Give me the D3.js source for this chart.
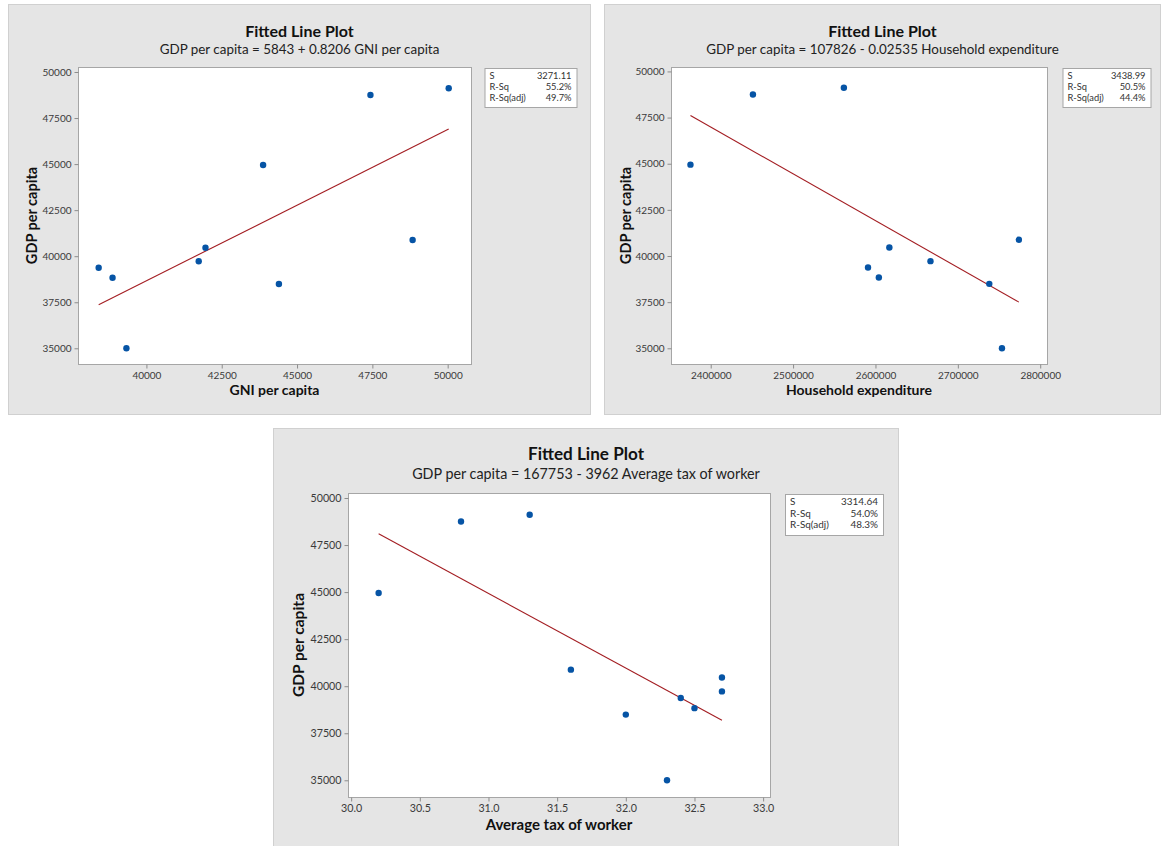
<!DOCTYPE html>
<html>
<head>
<meta charset="utf-8">
<script src="https://cdn.jsdelivr.net/npm/d3@7"></script>
<style>
  html, body { margin: 0; padding: 0; background: #ffffff; }
  svg { display: block; font-family: "Lato", "Noto Sans", sans-serif; }
</style>
</head>
<body>
<svg id="chart" width="1161" height="846"></svg>
<script>
// ---- data ----
const gdpPerCapita = [39376, 38833, 35000, 39723, 40461, 44951, 38491, 48751, 40880, 49114];
const gniPerCapita = [38415, 38876, 39336, 41736, 41961, 43873, 44398, 47436, 48836, 50034];
const householdExpenditure = [2590980, 2604120, 2753570, 2666820, 2616870, 2375420, 2738200, 2451260, 2774080, 2561670];
const averageTax = [32.4, 32.5, 32.3, 32.7, 32.7, 30.2, 32.0, 30.8, 31.6, 31.3];

const gdpTicks = [35000, 37500, 40000, 42500, 45000, 47500, 50000];
const gniTicks = [40000, 42500, 45000, 47500, 50000];
const heTicks = [2400000, 2500000, 2600000, 2700000, 2800000];
const taxTicks = [30.0, 30.5, 31.0, 31.5, 32.0, 32.5, 33.0];

const fitIntercepts = [5843, 107826, 167753];
const fitSlopes = [0.8206, -0.02535, -3962];
const subtitles = [
  "GDP per capita = 5843 + 0.8206 GNI per capita",
  "GDP per capita = 107826 - 0.02535 Household expenditure",
  "GDP per capita = 167753 - 3962 Average tax of worker"
];
const xLabels = ["GNI per capita", "Household expenditure", "Average tax of worker"];
const statLabels = ["S", "R-Sq", "R-Sq(adj)"];
const statValues = [
  ["3271.11", "55.2%", "49.7%"],
  ["3438.99", "50.5%", "44.4%"],
  ["3314.64", "54.0%", "48.3%"]
];

// ---- layout ----
const panels = [
  { box: {x: 8, y: 4, w: 583, h: 411}, plot: {x: 78, y: 67, w: 393, h: 297},
    stat: {dx: 13.5, w: 92, h: 39}, ylab: 41, fs: 1,
    xs: gniPerCapita, xDomain: [37729, 50774], yDomain: [34148, 50271], xTicks: gniTicks, xFmt: d3.format("d") },
  { box: {x: 604, y: 4, w: 557, h: 411}, plot: {x: 671, y: 67, w: 376, h: 297},
    stat: {dx: 15.5, w: 88, h: 39}, ylab: 40, fs: 1,
    xs: householdExpenditure, xDomain: [2351800, 2808250], yDomain: [34150, 50240], xTicks: heTicks, xFmt: d3.format("d") },
  { box: {x: 273, y: 428, w: 626, h: 430}, plot: {x: 348, y: 493, w: 422, h: 304},
    stat: {dx: 15, w: 98, h: 41}, ylab: 44, fs: 1.07,
    xs: averageTax, xDomain: [29.977, 33.05], yDomain: [34113, 50266], xTicks: taxTicks, xFmt: d3.format(".1f") }
];

const svg = d3.select("#chart");

panels.forEach((p, i) => {
  const g = svg.append("g");
  const f = p.fs;
  // panel background
  g.append("rect")
    .attr("x", p.box.x + 0.5).attr("y", p.box.y + 0.5)
    .attr("width", p.box.w - 1).attr("height", p.box.h - 1)
    .attr("fill", "#e5e5e5").attr("stroke", "#d0d0d0").attr("stroke-width", 1);

  const x = d3.scaleLinear().domain(p.xDomain).range([p.plot.x, p.plot.x + p.plot.w]);
  const y = d3.scaleLinear().domain(p.yDomain).range([p.plot.y + p.plot.h, p.plot.y]);

  // plot area
  g.append("rect")
    .attr("x", p.plot.x + 0.5).attr("y", p.plot.y + 0.5)
    .attr("width", p.plot.w).attr("height", p.plot.h)
    .attr("fill", "#ffffff").attr("stroke", "#a6a6a6").attr("stroke-width", 1);

  // axes
  const yAxis = d3.axisLeft(y).tickValues(gdpTicks).tickFormat(d3.format("d")).tickSize(4).tickPadding(3);
  const ya = g.append("g").attr("transform", `translate(${p.plot.x + 0.5},0)`).call(yAxis);
  const xAxis = d3.axisBottom(x).tickValues(p.xTicks).tickFormat(p.xFmt).tickSize(4).tickPadding(3);
  const xa = g.append("g").attr("transform", `translate(0,${p.plot.y + p.plot.h + 0.5})`).call(xAxis);
  [ya, xa].forEach(a => {
    a.select(".domain").remove();
    a.selectAll(".tick line").attr("stroke", "#8c8c8c");
    a.selectAll(".tick text").attr("fill", "#3a3a3a").style("font-size", (10 * f) + "px")
      .style("font-family", "'Lato', 'Noto Sans', sans-serif");
  });

  // fitted line
  const xmin = d3.min(p.xs), xmax = d3.max(p.xs);
  const fit = v => fitIntercepts[i] + fitSlopes[i] * v;
  g.append("line")
    .attr("x1", x(xmin)).attr("y1", y(fit(xmin)))
    .attr("x2", x(xmax)).attr("y2", y(fit(xmax)))
    .attr("stroke", "#a31d22").attr("stroke-width", 1.1);

  // points
  g.append("g").selectAll("circle")
    .data(p.xs.map((v, k) => [v, gdpPerCapita[k]]))
    .join("circle")
    .attr("cx", d => x(d[0])).attr("cy", d => y(d[1]))
    .attr("r", 3.2).attr("fill", "#0654a5");

  // titles (centred on the panel)
  const cx = p.box.x + p.box.w / 2;
  g.append("text").attr("x", cx).attr("y", p.plot.y - 30.5 * f)
    .attr("text-anchor", "middle").attr("font-weight", "bold")
    .style("font-size", (16 * f) + "px").attr("fill", "#111").text("Fitted Line Plot");
  g.append("text").attr("x", cx).attr("y", p.plot.y - 13.5 * f)
    .attr("text-anchor", "middle")
    .style("font-size", (13.4 * f) + "px").attr("fill", "#222").text(subtitles[i]);

  // axis labels
  g.append("text").attr("x", p.plot.x + p.plot.w / 2).attr("y", p.plot.y + p.plot.h + 31 * f)
    .attr("text-anchor", "middle").attr("font-weight", "bold")
    .style("font-size", (14 * f) + "px").attr("fill", "#111").text(xLabels[i]);
  g.append("text")
    .attr("transform", `translate(${p.plot.x - p.ylab},${p.plot.y + p.plot.h / 2}) rotate(-90)`)
    .attr("text-anchor", "middle").attr("font-weight", "bold")
    .style("font-size", (14.5 * f) + "px").attr("fill", "#111").text("GDP per capita");

  // stats box
  const bx = p.plot.x + p.plot.w + p.stat.dx, by = p.plot.y + 1;
  const sb = g.append("g");
  sb.append("rect").attr("x", bx + 0.5).attr("y", by + 0.5).attr("width", p.stat.w).attr("height", p.stat.h)
    .attr("fill", "#ffffff").attr("stroke", "#a6a6a6");
  const lh = (p.stat.h - 6) / 3;
  statLabels.forEach((lab, k) => {
    sb.append("text").attr("x", bx + 5).attr("y", by + 11 + k * lh)
      .style("font-size", (9.3 * f) + "px").attr("fill", "#333").text(lab);
    sb.append("text").attr("x", bx + p.stat.w - 5).attr("y", by + 11 + k * lh)
      .attr("text-anchor", "end").style("font-size", (9.3 * f) + "px").attr("fill", "#333").text(statValues[i][k]);
  });
});
</script>
</body>
</html>
